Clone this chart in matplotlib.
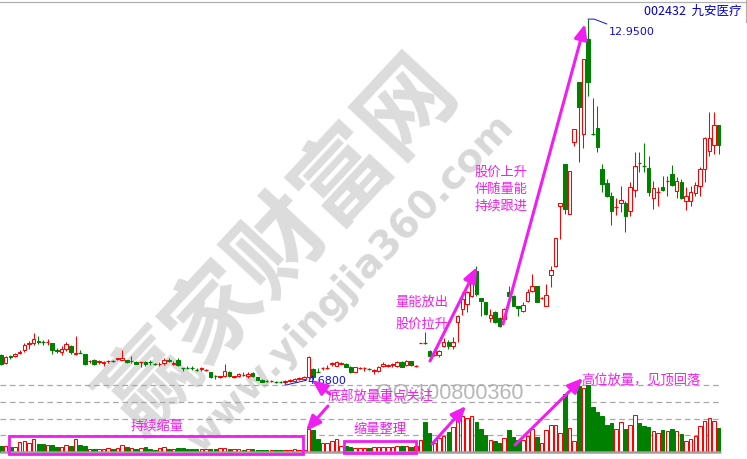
import matplotlib
matplotlib.use('Agg')
import matplotlib.pyplot as plt
from matplotlib.patches import Rectangle, FancyArrowPatch
import numpy as np

plt.rcParams['font.family'] = ['Noto Sans CJK SC', 'DejaVu Sans']

W, H = 747, 460

stock_code = '002432'
stock_name = '九安医疗'

# daily candles, price in yuan
opens = [5.32, 5.13, 5.29, 5.29, 5.36, 5.43, 5.57, 5.59, 5.63, 5.61,
         5.60, 5.59, 5.43, 5.38, 5.45, 5.52, 5.33, 5.38, 5.34, 5.17,
         5.20, 5.15, 5.13, 5.17, 5.18, 5.22, 5.20, 5.20, 5.17, 5.16,
         5.15, 5.16, 5.16, 5.11, 5.10, 5.13, 5.20, 5.12, 5.20, 5.02,
         5.04, 5.02, 4.98, 4.99, 4.97, 4.93, 4.84, 4.81, 4.84, 4.93,
         4.81, 4.84, 4.88, 4.84, 4.91, 4.82, 4.75, 4.73, 4.72, 4.71,
         4.71, 4.70, 4.73, 4.73, 4.78, 4.77, 4.82, 5.00, 4.95, 5.01,
         5.03, 5.12, 5.07, 5.12, 5.11, 5.04, 4.93, 5.01, 5.01, 5.00,
         4.95, 4.95, 5.07, 5.07, 5.09, 5.07, 5.16, 5.09, 5.18, 5.06,
         5.58, 5.59, 5.41, 5.32, 5.32, 5.52, 5.61, 5.52, 6.07, 6.36,
         6.48, 6.66, 7.23, 6.61, 6.52, 6.16, 6.29, 6.16, 6.13, 6.75,
         6.66, 6.43, 6.32, 6.54, 6.77, 6.88, 6.60, 6.43, 7.13, 7.34,
         8.70, 9.66, 8.52, 10.16, 11.52, 10.34, 12.50, 10.34, 10.48, 9.54,
         9.22, 8.93, 8.67, 8.77, 8.77, 8.59, 9.07, 9.68, 9.63, 9.57,
         8.88, 9.01, 9.13, 9.26, 9.43, 9.04, 9.25, 8.82, 8.82, 9.00,
         9.16, 9.54, 9.95, 10.09, 10.54]
closes = [5.11, 5.27, 5.27, 5.34, 5.38, 5.54, 5.59, 5.68, 5.61, 5.60,
          5.61, 5.43, 5.41, 5.45, 5.57, 5.38, 5.35, 5.37, 5.11, 5.19,
          5.11, 5.17, 5.16, 5.19, 5.17, 5.24, 5.25, 5.16, 5.19, 5.11,
          5.16, 5.11, 5.15, 5.10, 5.12, 5.20, 5.18, 5.14, 5.09, 5.01,
          5.03, 5.01, 4.97, 5.01, 4.98, 4.82, 4.83, 4.83, 4.95, 4.84,
          4.83, 4.88, 4.87, 4.88, 4.84, 4.75, 4.70, 4.72, 4.73, 4.70,
          4.70, 4.73, 4.75, 4.77, 4.80, 4.82, 5.27, 4.82, 4.94, 5.02,
          5.04, 5.14, 5.16, 5.14, 5.04, 4.93, 5.04, 5.02, 5.02, 4.99,
          4.97, 5.04, 5.11, 5.09, 5.11, 5.16, 5.04, 5.18, 5.09, 5.07,
          5.59, 5.58, 5.29, 5.41, 5.41, 5.61, 5.52, 5.61, 6.20, 6.59,
          6.75, 7.00, 6.70, 6.54, 6.25, 6.23, 6.07, 5.98, 6.36, 6.66,
          6.43, 6.38, 6.45, 6.75, 6.88, 6.52, 6.61, 6.68, 7.25, 7.98,
          8.77, 8.63, 9.50, 10.45, 10.95, 12.04, 11.52, 10.33, 10.04, 9.20,
          8.93, 8.59, 8.68, 8.84, 8.48, 9.13, 9.61, 9.67, 9.62, 9.02,
          9.11, 9.02, 9.07, 9.27, 9.18, 9.27, 8.88, 8.93, 9.02, 9.18,
          9.54, 10.25, 10.25, 10.54, 10.09]
highs = [5.34, 5.29, 5.32, 5.36, 5.43, 5.59, 5.63, 5.82, 5.75, 5.66,
         5.68, 5.59, 5.48, 5.52, 5.61, 5.54, 5.75, 5.43, 5.34, 5.20,
         5.23, 5.20, 5.18, 5.20, 5.20, 5.25, 5.43, 5.20, 5.29, 5.18,
         5.16, 5.18, 5.20, 5.13, 5.16, 5.25, 5.25, 5.18, 5.25, 5.02,
         5.07, 5.07, 5.02, 5.04, 5.00, 4.93, 4.86, 4.84, 5.11, 4.95,
         4.84, 4.91, 4.93, 4.93, 4.93, 4.82, 4.77, 4.75, 4.75, 4.73,
         4.73, 4.75, 4.77, 4.79, 4.82, 4.84, 5.29, 5.02, 5.02, 5.04,
         5.09, 5.16, 5.18, 5.16, 5.13, 5.07, 5.04, 5.04, 5.04, 5.02,
         5.00, 5.07, 5.16, 5.11, 5.13, 5.18, 5.18, 5.20, 5.18, 5.09,
         5.59, 5.84, 5.43, 5.45, 5.43, 5.70, 5.66, 5.73, 6.23, 6.75,
         6.77, 7.16, 7.34, 6.61, 6.52, 6.36, 6.32, 6.18, 6.38, 6.88,
         6.68, 6.43, 6.52, 6.82, 7.16, 6.88, 6.63, 6.93, 7.34, 7.98,
         8.77, 9.66, 9.50, 10.45, 11.52, 12.04, 12.95, 11.16, 10.98, 9.66,
         9.32, 9.02, 8.88, 9.16, 8.82, 9.25, 9.93, 9.93, 10.13, 9.84,
         9.27, 9.13, 9.38, 9.38, 9.63, 9.36, 9.32, 9.13, 9.16, 9.25,
         9.59, 10.27, 10.84, 10.84, 10.54]
lows = [5.09, 5.11, 5.23, 5.27, 5.34, 5.38, 5.45, 5.54, 5.57, 5.54,
        5.54, 5.34, 5.36, 5.32, 5.41, 5.34, 5.32, 5.36, 5.09, 5.13,
        5.09, 5.11, 5.07, 5.13, 5.16, 5.20, 5.20, 5.13, 5.13, 5.11,
        5.04, 5.07, 5.09, 5.09, 5.07, 5.09, 5.16, 5.09, 5.07, 4.95,
        5.00, 4.98, 4.95, 4.95, 4.95, 4.79, 4.77, 4.79, 4.82, 4.82,
        4.79, 4.82, 4.84, 4.79, 4.82, 4.75, 4.70, 4.70, 4.70, 4.69,
        4.69, 4.68, 4.70, 4.70, 4.75, 4.75, 4.77, 4.75, 4.93, 4.98,
        5.00, 5.07, 5.07, 5.11, 5.04, 4.91, 4.93, 5.00, 4.95, 4.98,
        4.88, 4.93, 5.04, 5.04, 5.04, 5.04, 5.04, 5.07, 5.07, 5.04,
        5.58, 5.57, 5.27, 5.29, 5.27, 5.50, 5.45, 5.45, 5.61, 6.23,
        6.29, 6.63, 6.66, 6.20, 6.23, 6.07, 6.04, 5.95, 6.11, 6.66,
        6.43, 6.20, 6.29, 6.52, 6.75, 6.52, 6.59, 6.43, 6.86, 7.32,
        7.95, 8.52, 8.52, 10.07, 9.70, 10.02, 11.20, 10.32, 9.93, 9.02,
        8.91, 8.27, 8.50, 8.57, 8.11, 8.48, 8.91, 9.48, 9.48, 8.93,
        8.63, 8.70, 9.04, 8.93, 9.16, 8.88, 8.86, 8.61, 8.70, 8.93,
        8.93, 9.25, 9.84, 9.88, 9.88]
# volume, relative units
volumes = [6, 6, 5, 5, 10, 11, 9, 13, 8, 8,
           7, 7, 5, 5, 7, 6, 13, 7, 6, 3,
           3, 3, 3, 4, 3, 4, 7, 5, 4, 3,
           4, 5, 3, 2.5, 4, 5, 3, 3, 4, 4,
           3, 3, 3, 3, 3, 3, 3, 4, 4, 3,
           3, 3, 2.5, 3, 3, 2.5, 2.5, 2.5, 2.5, 2.5,
           2.5, 2, 2.5, 3, 2, 2.5, 23, 22, 13, 9,
           9, 11, 13, 6, 6, 5, 4, 4, 4, 4,
           5, 5, 5, 5, 5, 6, 6, 6, 5, 6,
           12, 30, 19, 9, 14, 16, 20, 25, 33, 36,
           34, 36, 30, 23, 17, 12, 11, 9, 14, 22,
           15, 12, 12, 16, 23, 15, 9, 22, 27, 27,
           19, 58, 24, 11, 66, 64, 67, 45, 40, 36,
           27, 29, 23, 30, 23, 27, 37, 29, 26, 25,
           21, 19, 22, 21, 23, 21, 18, 11, 13, 16,
           26, 31, 34, 31, 24]

RED = '#ff0000'
GREEN = '#008000'
MAG = '#f01ef0'
BLUE = '#1010dd'

o = np.array(opens)
c = np.array(closes)
hi = np.array(highs)
lo = np.array(lows)
vol = np.array(volumes, dtype=float)
n = len(o)
idx = np.arange(n)
up = c >= o

fig = plt.figure(figsize=(W / 100, H / 100), dpi=100)
ax = fig.add_axes([0, 0, 1, 1])
axv = fig.add_axes([0, 0, 1, 1], sharex=ax)
axv.patch.set_visible(False)
for a in (ax, axv):
    a.set_axis_off()

x_left, x_right = -0.215, 160.09
ax.set_xlim(x_left, x_right)
ax.set_ylim(2.952, 13.407)
axv.set_ylim(-7, 453)

bw = 0.76
lw = 0.75

# --- candles ---
for i in idx:
    col = RED if up[i] else GREEN
    ax.vlines(i, lo[i], hi[i], color=col, lw=lw, zorder=2)
    b0, b1 = min(o[i], c[i]), max(o[i], c[i])
    if b1 - b0 < 0.015:
        ax.hlines(b0, i - bw / 2, i + bw / 2, color=col, lw=lw + 0.2, zorder=3)
    else:
        ax.add_patch(Rectangle((i - bw / 2, b0), bw, b1 - b0,
                               facecolor='white' if up[i] else GREEN,
                               edgecolor=col, lw=lw, zorder=3))

# --- volume ---
vmax = vol.max()
for k in (0.25, 0.5, 0.75, 1.0):
    axv.hlines(vmax * k, x_left, n - 0.5, color='#a8a8a8', lw=0.9,
               linestyles=(0, (4.5, 3)), zorder=1)
axv.hlines(0, x_left, n - 0.5, color='#a0a0a0', lw=1.8, zorder=4)
for i in idx:
    col = RED if up[i] else GREEN
    axv.add_patch(Rectangle((i - bw / 2, 0), bw, vol[i],
                            facecolor='white' if up[i] else GREEN,
                            edgecolor=col, lw=lw, zorder=3))


def pix(x, y):
    return (x / W, 1 - y / H)


# --- watermarks ---
ax.text(*pix(281, 246), '赢家财富网', transform=fig.transFigure, rotation=47,
        rotation_mode='anchor', ha='center', va='center', fontsize=68,
        fontweight='bold', color='#dcdcdc', zorder=0.5)
ax.text(*pix(350, 283), 'www.yingjia360.com', transform=fig.transFigure,
        rotation=46, rotation_mode='anchor', ha='center', va='center',
        fontsize=28, fontweight='bold', family='DejaVu Sans',
        color='#d8d8d8', zorder=0.5)
ax.text(*pix(450, 394), 'QQ:100800360', transform=fig.transFigure,
        ha='center', va='center', fontsize=15.5, family='Liberation Sans',
        color='#b8b8b8', zorder=0.6)

# --- frame lines and title ---
fig.add_artist(plt.Line2D([0, 1], [1 - 2.5 / H] * 2, color='#b0b0b0', lw=0.9))
fig.add_artist(plt.Line2D([745.5 / W] * 2, [1, 1 - 23 / H], color='#b0b0b0', lw=0.9))
fig.text(*pix(742, 11), stock_code + '  ' + stock_name, ha='right', va='center',
         fontsize=9, color='#0000cc')

# --- high / low markers ---
top = int(np.argmax(hi))
bot = int(np.argmin(lo))
ax.plot([top, top + 1.3, top + 4.0], [hi[top], hi[top], hi[top] - 0.11],
        color=BLUE, lw=0.7, zorder=5)
ax.text(top + 4.4, hi[top] - 0.27, f'{hi[top]:.4f}', color=BLUE, fontsize=8,
        family='DejaVu Sans', va='center', ha='left', zorder=5)
ax.plot([bot, bot, bot + 4.5], [lo[bot], lo[bot] - 0.05, lo[bot] + 0.06],
        color=BLUE, lw=0.7, zorder=5)
ax.text(bot + 4.7, lo[bot] + 0.06, f'{lo[bot]:.4f}', color=BLUE, fontsize=8,
        family='DejaVu Sans', va='center', ha='left', zorder=5)


# --- annotations ---
def arrow(tail, head):
    fig.add_artist(FancyArrowPatch(pix(*tail), pix(*head), transform=fig.transFigure,
                                   arrowstyle='-|>,head_length=0.75,head_width=0.32',
                                   mutation_scale=12, lw=2.2, color=MAG,
                                   shrinkA=0, shrinkB=0))


def box(x0, y0, x1, y1):
    fig.add_artist(Rectangle(pix(x0, y1), (x1 - x0) / W, (y1 - y0) / H,
                             transform=fig.transFigure, fill=False, ec=MAG, lw=2))


def label(x, y, s):
    fig.text(*pix(x, y), s, ha='center', va='center', fontsize=9.5, color=MAG)


box(8.5, 436.5, 303, 454.5)
label(157, 426, '持续缩量')
box(344, 442, 415.5, 454)
label(380, 430, '缩量整理')
label(381, 397, '底部放量重点关注')
arrow((330, 395), (312, 381))
arrow((328, 407), (306, 432))
label(422, 302, '量能放出')
label(422, 324, '股价拉升')
arrow((430, 362), (477, 268))
label(501, 172, '股价上升')
label(501, 189, '伴随量能')
label(501, 206, '持续跟进')
arrow((503, 325), (585, 25))
arrow((432, 445), (466, 407))
arrow((515, 446), (583, 379))
label(641, 380, '高位放量，见顶回落')

fig.savefig('out.png', dpi=100)
